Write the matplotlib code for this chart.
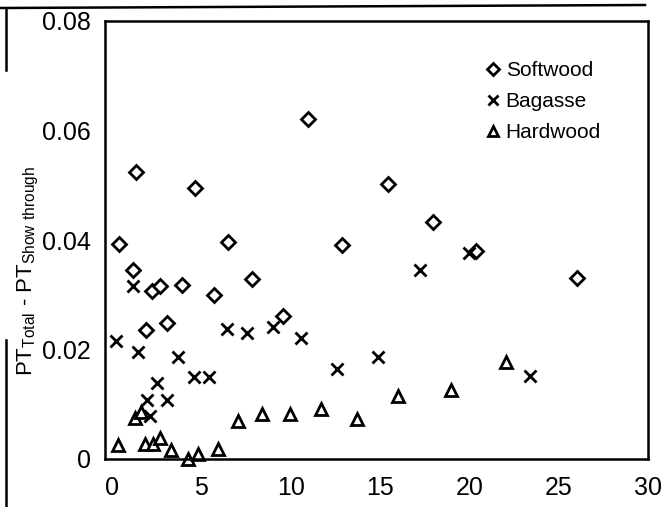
import matplotlib
matplotlib.use("Agg")
import matplotlib.pyplot as plt
from matplotlib.lines import Line2D

plt.rcParams['font.family'] = ['Liberation Sans', 'DejaVu Sans']
plt.rcParams['mathtext.default'] = 'regular'

softwood_x = [0.39, 1.34, 4.65, 6.49, 1.18, 2.24, 2.69, 3.92, 5.71, 7.84, 1.90, 3.08,
              9.57, 10.97, 12.88, 15.45, 17.97, 20.38, 26.04]
softwood_y = [0.0393, 0.0524, 0.0495, 0.0396, 0.0345, 0.0307, 0.0316, 0.0318, 0.0300,
              0.0329, 0.0236, 0.0248, 0.0261, 0.0621, 0.0391, 0.0502, 0.0433, 0.0380, 0.0331]

bagasse_x = [0.22, 1.18, 1.46, 3.70, 2.52, 1.96, 3.08, 2.13, 4.59, 5.43, 6.44, 7.56,
             9.01, 10.58, 12.60, 14.89, 17.25, 19.99, 23.40]
bagasse_y = [0.0216, 0.0316, 0.0195, 0.0186, 0.0139, 0.0108, 0.0108, 0.0079, 0.0150,
             0.0150, 0.0237, 0.0230, 0.0241, 0.0221, 0.0164, 0.0186, 0.0345, 0.0376, 0.0152]

hardwood_x = [0.34, 1.29, 1.62, 1.85, 2.30, 2.69, 3.30, 4.26, 4.82, 5.94, 7.05, 8.40,
              9.97, 11.70, 13.72, 16.01, 18.98, 22.06]
hardwood_y = [0.0026, 0.0075, 0.0086, 0.0027, 0.0027, 0.0038, 0.0016, 0.0000, 0.0009,
              0.0018, 0.0069, 0.0082, 0.0082, 0.0091, 0.0073, 0.0115, 0.0126, 0.0177]

x_ticks = [0, 5, 10, 15, 20, 25, 30]
y_ticks = [0, 0.02, 0.04, 0.06, 0.08]
y_tick_labels = ['0', '0.02', '0.04', '0.06', '0.08']

W, H = 663, 507
fig = plt.figure(figsize=(W / 100, H / 100), dpi=100)
ax = fig.add_axes([105 / W, (H - 459) / H, (648 - 105) / W, (459 - 21) / H])

ax.plot(softwood_x, softwood_y, linestyle='none', marker='D', markersize=6.8,
        markerfacecolor='white', markeredgecolor='black', markeredgewidth=2.0,
        label='Softwood', clip_on=False)
ax.plot(bagasse_x, bagasse_y, linestyle='none', marker='x', markersize=9,
        markeredgecolor='black', markeredgewidth=2.0, label='Bagasse', clip_on=False)
ax.plot(hardwood_x, hardwood_y, linestyle='none', marker='^', markersize=8.5,
        markerfacecolor='white', markeredgecolor='black', markeredgewidth=2.0,
        label='Hardwood', clip_on=False)

ax.set_xlim(-0.4, 30)
ax.set_ylim(0, 0.08)
ax.set_xticks(x_ticks)
ax.set_yticks(y_ticks)
ax.set_yticklabels(y_tick_labels)
ax.tick_params(axis='both', length=0)
ax.tick_params(axis='x', pad=12, labelsize=18)
ax.tick_params(axis='y', pad=10, labelsize=18)
for s in ax.spines.values():
    s.set_linewidth(1.8)

ax.set_ylabel(r'$PT_{Total}$ - $PT_{Show\ through}$', fontsize=16)
ax.yaxis.set_label_coords(-0.118, 0.43)

leg = ax.legend(loc='upper left', bbox_to_anchor=(0.69, 0.927), frameon=False,
                fontsize=15, handlelength=0.5, handletextpad=0.35, labelspacing=0.57,
                borderaxespad=0, markerscale=0.85)

# scan frame remnants
fig.add_artist(Line2D([0 / W, 645 / W], [1 - 8 / H, 1 - 5 / H], color='black', lw=1.8))
fig.add_artist(Line2D([6 / W, 6 / W], [1 - 8 / H, 1 - 70 / H], color='black', lw=1.8))
fig.add_artist(Line2D([6 / W, 6 / W], [1 - 340 / H, 0], color='black', lw=1.8))

fig.savefig('out.png', dpi=100)
